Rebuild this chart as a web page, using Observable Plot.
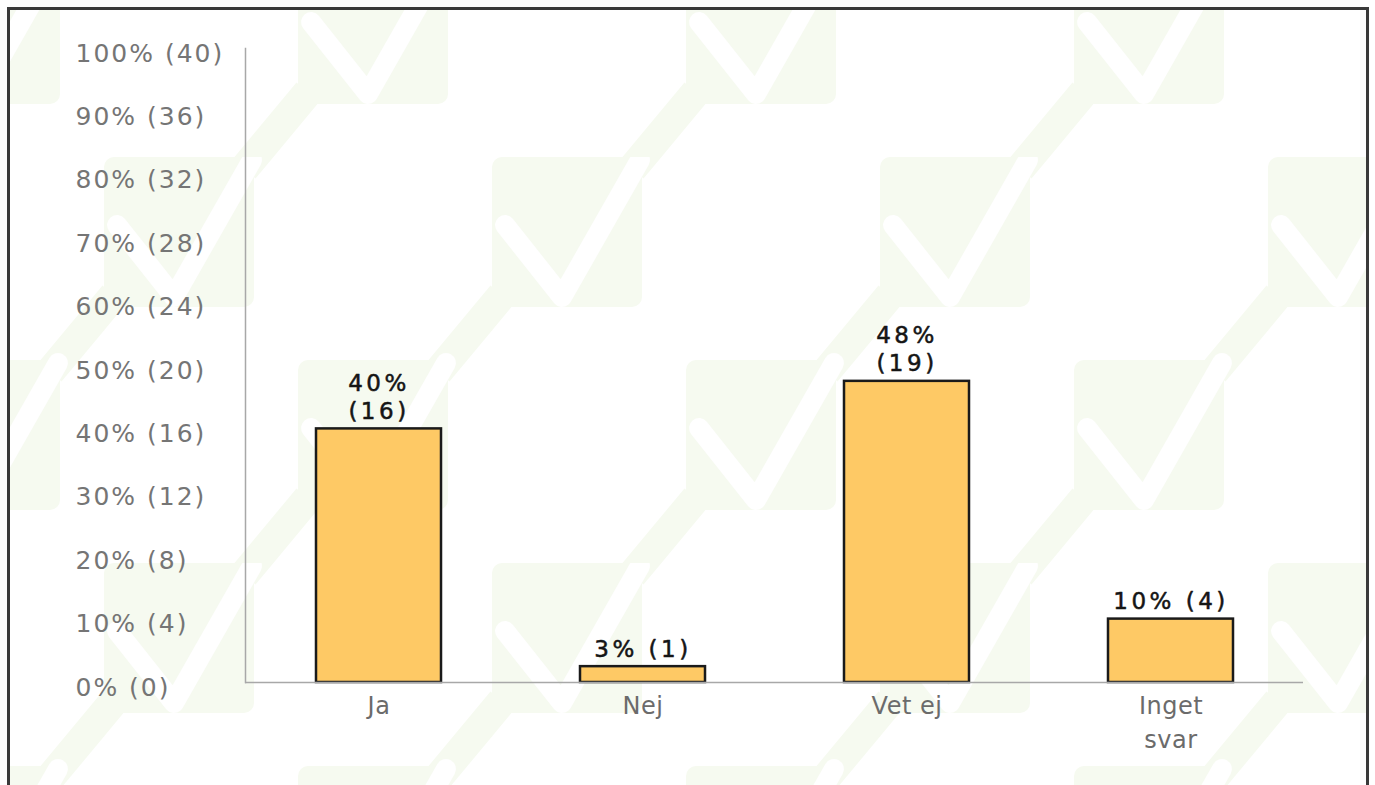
<!DOCTYPE html>
<html>
<head>
<meta charset="utf-8">
<script src="https://cdn.jsdelivr.net/npm/d3@7"></script>
<script src="https://cdn.jsdelivr.net/npm/@observablehq/plot@0.6"></script>
<style>
  html, body { margin: 0; padding: 0; background: #fff; width: 1375px; height: 785px; overflow: hidden; }
  #frame {
    position: absolute; left: 7px; top: 7px; width: 1356px; height: 800px;
    border: 3px solid #3a3a3a; border-bottom: none; background-color: #fff;
    background-repeat: repeat; background-position: 94px 147px;
  }
  #chart { position: absolute; left: 0; top: 0; }
  #chart svg text { font-family: "DejaVu Sans", Verdana, sans-serif; }
  #chart svg .ytick text { letter-spacing: 2px; }
  #chart svg .xtick text { letter-spacing: 0.5px; }
  #chart svg .barlabel text { letter-spacing: 3.5px; }
</style>
</head>
<body>
<div id="frame"></div>
<div id="chart"></div>
<script>
// ---- data ----
const categories = ["Ja", "Nej", "Vet ej", "Inget svar"];
const counts = [16, 1, 19, 4];
const percents = [40, 3, 48, 10];
const total = 40;
const tickPercents = [0, 10, 20, 30, 40, 50, 60, 70, 80, 90, 100];
const tickCounts = [0, 4, 8, 12, 16, 20, 24, 28, 32, 36, 40];

// ---- decorative watermark (checkmark tiles) ----
const tint = "#f6faf0";
const sq = (x, y) => `<rect x="${x}" y="${y}" width="150" height="150" rx="10" fill="${tint}"/>` +
  `<polyline points="${x+13},${y+68} ${x+70},${y+140} ${x+148},${y+3}" fill="none" stroke="#fff" stroke-width="20" stroke-linejoin="round" stroke-linecap="round"/>`;
const con = (x1, y1, x2, y2) => `<line x1="${x1}" y1="${y1}" x2="${x2}" y2="${y2}" stroke="${tint}" stroke-width="30"/>`;
const tile = `<svg xmlns="http://www.w3.org/2000/svg" width="388" height="406">` +
  con(140, 418, 204, 341) + con(140, 12, 204, -65) +
  con(334, 215, 398, 138) + con(-54, 215, 10, 138) +
  sq(0, 0) + sq(194, 203) + `</svg>`;
document.getElementById("frame").style.backgroundImage = `url("data:image/svg+xml,${encodeURIComponent(tile)}")`;

// ---- chart ----
const rows = categories.map((c, i) => ({
  cat: c,
  frac: counts[i] / total,
  label: `${percents[i]}% (${counts[i]})`
}));
const tickLabel = new Map(tickPercents.map((p, i) => [p / 100, `${p}% (${tickCounts[i]})`]));

const chart = Plot.plot({
  width: 1375,
  height: 748,
  marginLeft: 245,
  marginRight: 72,
  marginTop: 48,
  marginBottom: 66,
  style: { background: "transparent", overflow: "hidden", fontFamily: "DejaVu Sans" },
  x: { domain: categories, paddingInner: 0.527, paddingOuter: 0.2635 },
  y: { domain: [0, 1] },
  marks: [
    Plot.frame({ anchor: "left", stroke: "#a8a8a8", strokeWidth: 1.5 }),
    Plot.axisY(tickPercents.map(p => p / 100), {
      className: "ytick",
      tickSize: 0, tickPadding: 0, textAnchor: "start", dx: -170, dy: 5,
      fontSize: 25, fill: "#757575",
      tickFormat: d => tickLabel.get(d), label: null
    }),
    Plot.barY(rows, { x: "cat", y: "frac", fill: "#fec965", stroke: "#1a1a1a", strokeWidth: 2.5 }),
    Plot.ruleY([0], { stroke: "#a8a8a8", strokeWidth: 1.5 }),
    Plot.text(rows, {
      className: "barlabel",
      x: "cat", y: "frac", text: "label",
      lineAnchor: "bottom", dy: -10, fontSize: 23, fill: "#151515",
      stroke: "#151515", strokeWidth: 0.5,
      lineWidth: 3.8, lineHeight: 1.22
    }),
    Plot.axisX({
      className: "xtick",
      tickSize: 0, tickPadding: 8, fontSize: 24, fill: "#6b6b6b",
      lineWidth: 3.5, lineHeight: 1.4, label: null
    })
  ]
});
document.getElementById("chart").appendChild(chart);
</script>
</body>
</html>
